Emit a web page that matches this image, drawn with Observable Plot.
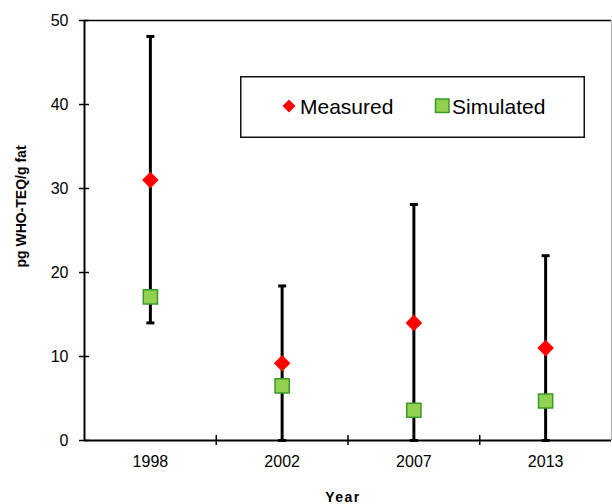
<!DOCTYPE html>
<html><head><meta charset="utf-8">
<script src="https://cdn.jsdelivr.net/npm/d3@7"></script>
<script src="https://cdn.jsdelivr.net/npm/@observablehq/plot@0.6"></script>
<style>
body{margin:0;background:#fff;}
#wrap{position:relative;width:612px;height:504px;font-family:"Liberation Sans",Arial,sans-serif;}
#legend{position:absolute;left:240px;top:76px;}
</style></head><body><div id="wrap"></div>
<script>
const years = ["1998", "2002", "2007", "2013"];
const measured = [31.0, 9.2, 14.0, 11.0];
const simulated = [17.1, 6.5, 3.6, 4.7];
const errLow = [14.0, 0, 0, 0];
const errHigh = [48.1, 18.4, 28.1, 22.0];
const yTicks = [0, 10, 20, 30, 40, 50];
const seriesNames = ["Measured", "Simulated"];
const yLabel = "pg WHO-TEQ/g fat";
const xLabel = "Year";

const rows = years.map((year, i) => ({
  year, pos: i + 0.5, measured: measured[i], simulated: simulated[i], lo: errLow[i], hi: errHigh[i]
}));
const boundaries = years.slice(1).map((_, i) => i + 1);

const capSymbol = {draw(ctx) { ctx.moveTo(-4, 0); ctx.lineTo(4, 0); }};

const chart = Plot.plot({
  width: 612, height: 504,
  marginLeft: 84, marginRight: 1, marginTop: 20, marginBottom: 64,
  style: {fontFamily: "Liberation Sans, Arial, sans-serif", fontSize: "16px", color: "black", background: "white"},
  x: {type: "linear", domain: [0, years.length]},
  y: {domain: [0, 50]},
  marks: [
    Plot.ruleY([50], {stroke: "black", strokeWidth: 1.3}),
    Plot.ruleX([years.length], {stroke: "#b5b5b5", strokeWidth: 1.3}),
    Plot.axisY({ticks: yTicks, tickSize: 10, dx: 5, tickFormat: () => "", label: null, strokeWidth: 1.5}),
    Plot.axisY({ticks: yTicks, tickSize: 0, tickPadding: 16, fontSize: 16, label: null}),
    Plot.axisX({ticks: boundaries, tickSize: 10, dy: -5, tickFormat: () => "", label: null, strokeWidth: 1.5}),
    Plot.axisX({ticks: rows.map(d => d.pos), tickSize: 0, tickPadding: 15, fontSize: 16, label: null,
      tickFormat: d => years[Math.floor(d)]}),
    Plot.ruleY([0], {stroke: "black", strokeWidth: 2}),
    Plot.ruleX([0], {stroke: "black", strokeWidth: 2}),
    Plot.ruleX(rows, {x: "pos", y1: "lo", y2: "hi", stroke: "black", strokeWidth: 3}),
    Plot.dot(rows, {x: "pos", y: "hi", symbol: capSymbol, stroke: "black", strokeWidth: 3}),
    Plot.dot(rows, {x: "pos", y: "lo", symbol: capSymbol, stroke: "black", strokeWidth: 3}),
    Plot.dot(rows, {x: "pos", y: "simulated", symbol: "square", r: 8, fill: "#92D050", stroke: "#3a9a2a", strokeWidth: 1.5}),
    Plot.dot(rows, {x: "pos", y: "measured", symbol: "diamond2", r: 7.5, fill: "#ff0000"}),
    Plot.text([yLabel], {frameAnchor: "left", rotate: -90, dx: -63, dy: -24, textAnchor: "middle", lineAnchor: "middle",
      fontSize: 14, fontWeight: "bold", className: "ylab"}),
    Plot.text([xLabel], {frameAnchor: "bottom", dx: -5, dy: 57, textAnchor: "middle", lineAnchor: "middle",
      fontSize: 14, fontWeight: "bold", className: "xlab"})
  ]
});
d3.select(chart).selectAll(".xlab text").style("letter-spacing", "1.5px");
const wrap = document.getElementById("wrap");
wrap.appendChild(chart);

const legend = document.createElement("div");
legend.id = "legend";
legend.innerHTML = `<svg width="346" height="63" xmlns="http://www.w3.org/2000/svg" style="font-family:'Liberation Sans',Arial,sans-serif">
<rect x="0.75" y="0.75" width="343.5" height="60.5" fill="white" stroke="#111" stroke-width="1.5"/>
<path d="M49,23.5 L55.5,30 L49,36.5 L42.5,30 Z" fill="#ff0000"/>
<text x="60" y="38" font-size="21" fill="black">${seriesNames[0]}</text>
<rect x="195.5" y="23" width="13.5" height="13.5" fill="#92D050" stroke="#3a9a2a" stroke-width="1.5"/>
<text x="212" y="38" font-size="21" fill="black">${seriesNames[1]}</text>
</svg>`;
wrap.appendChild(legend);
</script>
</body></html>
